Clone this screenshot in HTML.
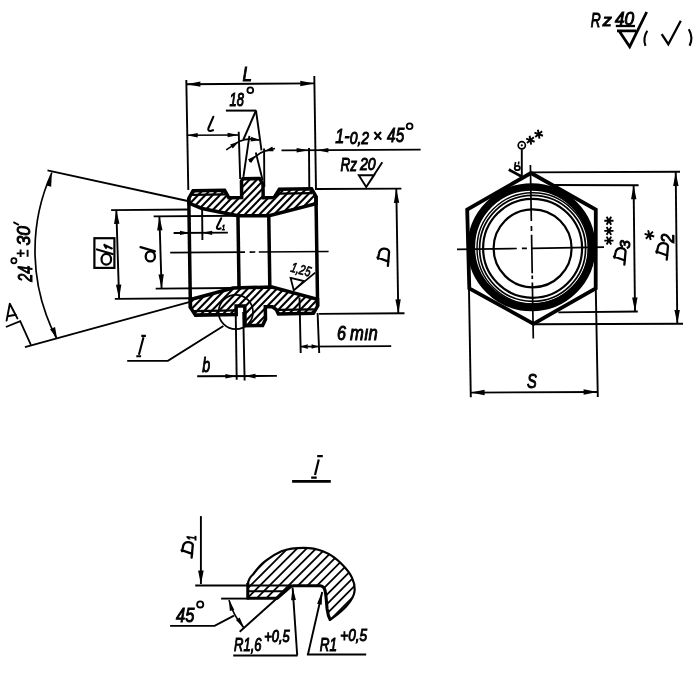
<!DOCTYPE html><html><head><meta charset="utf-8"><title>drawing</title>
<style>html,body{margin:0;padding:0;background:#fff}svg{display:block}text{font-family:"Liberation Sans",sans-serif;font-style:italic;fill:#000}</style></head><body>
<svg width="696" height="674" viewBox="0 0 696 674" fill="none" stroke="#000" stroke-linecap="butt">
<rect x="0" y="0" width="696" height="674" fill="#fff" stroke="none"/>
<defs><filter id="bl" x="0" y="0" width="696" height="674" filterUnits="userSpaceOnUse"><feGaussianBlur stdDeviation="0.45"/></filter></defs>
<g filter="url(#bl)">
<defs>
<clipPath id="ct"><polygon points="194.00,189.75 225.50,189.75 229.60,197.30 242.50,197.30 242.50,181.00 244.00,178.60 260.50,178.60 264.00,184.00 264.00,197.80 275.00,197.80 280.30,189.75 312.50,189.75 316.80,197.50 316.80,204.60 269.60,216.00 238.50,215.60 202.60,207.70 189.60,202.10 189.60,197.50"/></clipPath>
<clipPath id="cb"><polygon points="189.60,298.60 199.30,296.20 232.50,287.70 271.50,287.30 316.80,300.30 316.80,307.00 312.50,314.25 277.50,314.25 275.50,310.00 271.50,307.00 264.50,307.00 264.50,319.50 261.50,325.60 244.00,325.60 244.00,305.80 235.30,305.80 235.30,314.25 194.50,314.25 189.60,306.50"/></clipPath>
</defs>
<g transform="rotate(-0.85 253 252)">
<g clip-path="url(#ct)" stroke-width="2.1">
<line x1="181.20" y1="175.00" x2="136.20" y2="220.00"/>
<line x1="188.60" y1="175.00" x2="143.60" y2="220.00"/>
<line x1="196.00" y1="175.00" x2="151.00" y2="220.00"/>
<line x1="203.40" y1="175.00" x2="158.40" y2="220.00"/>
<line x1="210.80" y1="175.00" x2="165.80" y2="220.00"/>
<line x1="218.20" y1="175.00" x2="173.20" y2="220.00"/>
<line x1="225.60" y1="175.00" x2="180.60" y2="220.00"/>
<line x1="233.00" y1="175.00" x2="188.00" y2="220.00"/>
<line x1="240.40" y1="175.00" x2="195.40" y2="220.00"/>
<line x1="247.80" y1="175.00" x2="202.80" y2="220.00"/>
<line x1="255.20" y1="175.00" x2="210.20" y2="220.00"/>
<line x1="262.60" y1="175.00" x2="217.60" y2="220.00"/>
<line x1="270.00" y1="175.00" x2="225.00" y2="220.00"/>
<line x1="277.40" y1="175.00" x2="232.40" y2="220.00"/>
<line x1="284.80" y1="175.00" x2="239.80" y2="220.00"/>
<line x1="292.20" y1="175.00" x2="247.20" y2="220.00"/>
<line x1="299.60" y1="175.00" x2="254.60" y2="220.00"/>
<line x1="307.00" y1="175.00" x2="262.00" y2="220.00"/>
<line x1="314.40" y1="175.00" x2="269.40" y2="220.00"/>
<line x1="321.80" y1="175.00" x2="276.80" y2="220.00"/>
<line x1="329.20" y1="175.00" x2="284.20" y2="220.00"/>
<line x1="336.60" y1="175.00" x2="291.60" y2="220.00"/>
<line x1="344.00" y1="175.00" x2="299.00" y2="220.00"/>
<line x1="351.40" y1="175.00" x2="306.40" y2="220.00"/>
<line x1="358.80" y1="175.00" x2="313.80" y2="220.00"/>
<line x1="366.20" y1="175.00" x2="321.20" y2="220.00"/>
</g>
<g clip-path="url(#cb)" stroke-width="2.1">
<line x1="184.20" y1="285.00" x2="139.20" y2="330.00"/>
<line x1="191.60" y1="285.00" x2="146.60" y2="330.00"/>
<line x1="199.00" y1="285.00" x2="154.00" y2="330.00"/>
<line x1="206.40" y1="285.00" x2="161.40" y2="330.00"/>
<line x1="213.80" y1="285.00" x2="168.80" y2="330.00"/>
<line x1="221.20" y1="285.00" x2="176.20" y2="330.00"/>
<line x1="228.60" y1="285.00" x2="183.60" y2="330.00"/>
<line x1="236.00" y1="285.00" x2="191.00" y2="330.00"/>
<line x1="243.40" y1="285.00" x2="198.40" y2="330.00"/>
<line x1="250.80" y1="285.00" x2="205.80" y2="330.00"/>
<line x1="258.20" y1="285.00" x2="213.20" y2="330.00"/>
<line x1="265.60" y1="285.00" x2="220.60" y2="330.00"/>
<line x1="273.00" y1="285.00" x2="228.00" y2="330.00"/>
<line x1="280.40" y1="285.00" x2="235.40" y2="330.00"/>
<line x1="287.80" y1="285.00" x2="242.80" y2="330.00"/>
<line x1="295.20" y1="285.00" x2="250.20" y2="330.00"/>
<line x1="302.60" y1="285.00" x2="257.60" y2="330.00"/>
<line x1="310.00" y1="285.00" x2="265.00" y2="330.00"/>
<line x1="317.40" y1="285.00" x2="272.40" y2="330.00"/>
<line x1="324.80" y1="285.00" x2="279.80" y2="330.00"/>
<line x1="332.20" y1="285.00" x2="287.20" y2="330.00"/>
<line x1="339.60" y1="285.00" x2="294.60" y2="330.00"/>
<line x1="347.00" y1="285.00" x2="302.00" y2="330.00"/>
<line x1="354.40" y1="285.00" x2="309.40" y2="330.00"/>
<line x1="361.80" y1="285.00" x2="316.80" y2="330.00"/>
<line x1="369.20" y1="285.00" x2="324.20" y2="330.00"/>
</g>
<line x1="193.00" y1="194.00" x2="226.00" y2="194.00" stroke-width="2.2" />
<line x1="279.00" y1="194.00" x2="313.00" y2="194.00" stroke-width="2.2" />
<line x1="193.00" y1="310.20" x2="235.00" y2="310.20" stroke-width="2.2" />
<line x1="278.00" y1="310.20" x2="313.00" y2="310.20" stroke-width="2.2" />
<polygon points="194.00,189.75 225.50,189.75 229.60,197.30 242.50,197.30 242.50,181.00 244.00,178.60 260.50,178.60 264.00,184.00 264.00,197.80 275.00,197.80 280.30,189.75 312.50,189.75 316.80,197.50 316.80,204.60 269.60,216.00 238.50,215.60 202.60,207.70 189.60,202.10 189.60,197.50" stroke-width="3.5" stroke-linejoin="miter"/>
<polygon points="189.60,298.60 199.30,296.20 232.50,287.70 271.50,287.30 316.80,300.30 316.80,307.00 312.50,314.25 277.50,314.25 275.50,310.00 271.50,307.00 264.50,307.00 264.50,319.50 261.50,325.60 244.00,325.60 244.00,305.80 235.30,305.80 235.30,314.25 194.50,314.25 189.60,306.50" stroke-width="3.5" stroke-linejoin="miter"/>
<line x1="189.60" y1="197.00" x2="189.60" y2="307.00" stroke-width="3.5" />
<line x1="316.80" y1="197.00" x2="316.80" y2="307.00" stroke-width="3.5" />
<line x1="238.50" y1="215.00" x2="238.50" y2="288.00" stroke-width="3.5" />
<line x1="269.30" y1="215.00" x2="269.30" y2="288.00" stroke-width="3.5" />
</g>
<line x1="170.20" y1="252.60" x2="328.60" y2="251.50" stroke-width="1.7" stroke-dasharray="74.8 4.6 5.7 3.5 80"/>
<line x1="186.30" y1="80.00" x2="188.30" y2="190.00" stroke-width="1.9" />
<line x1="314.30" y1="76.00" x2="316.00" y2="190.00" stroke-width="1.9" />
<line x1="186.40" y1="84.20" x2="314.30" y2="83.40" stroke-width="1.9" />
<polygon points="314.30,83.40 300.32,86.19 300.28,80.79" fill="#000" stroke="none"/>
<polygon points="186.40,84.20 200.38,81.41 200.42,86.81" fill="#000" stroke="none"/>
<text transform="translate(242.40 80.80) scale(0.838 1)" font-size="20.22" stroke="#000" stroke-width="1.0">L</text>
<text transform="translate(229.50 105.82) scale(0.704 1)" font-size="18.37" stroke="#000" stroke-width="1.0">18</text>
<circle cx="250.3" cy="90.2" r="2.9" stroke-width="1.8"/>
<line x1="225.90" y1="110.60" x2="256.10" y2="110.60" stroke-width="2.0" />
<line x1="256.00" y1="110.50" x2="243.40" y2="139.50" stroke-width="1.9" />
<line x1="256.00" y1="110.50" x2="261.50" y2="150.40" stroke-width="1.9" />
<line x1="249.40" y1="135.90" x2="243.40" y2="176.90" stroke-width="1.9" />
<line x1="255.80" y1="152.50" x2="262.60" y2="180.00" stroke-width="1.9" />
<line x1="238.70" y1="131.70" x2="240.20" y2="179.00" stroke-width="1.9" />
<line x1="264.10" y1="148.40" x2="264.30" y2="187.00" stroke-width="1.9" />
<path d="M226.2,149.9 L238.7,141.6 Q249,137 259.5,140.2" stroke-width="1.6"/>
<polygon points="238.90,141.50 232.78,148.52 230.10,144.54" fill="#000" stroke="none"/>
<polygon points="259.80,140.40 250.55,141.52 251.22,136.77" fill="#000" stroke="none"/>
<path d="M249.6,161.9 Q258,153.5 264.2,151.2 L275,148.4" stroke-width="1.6"/>
<polygon points="256.20,155.20 251.12,163.01 247.91,159.44" fill="#000" stroke="none"/>
<polygon points="264.30,151.20 272.37,146.55 273.61,151.19" fill="#000" stroke="none"/>
<line x1="186.70" y1="135.30" x2="238.60" y2="134.90" stroke-width="1.5" />
<polygon points="238.60,134.90 227.62,137.18 227.58,132.78" fill="#000" stroke="none"/>
<polygon points="186.70,135.30 197.68,133.02 197.72,137.42" fill="#000" stroke="none"/>
<path d="M213.3,116.8 L208.5,128 Q207.6,131 210.4,131 L213,130.2" stroke-width="2.1" stroke-linecap="round" stroke-linejoin="round"/>
<line x1="281.50" y1="150.40" x2="420.60" y2="149.60" stroke-width="1.9" />
<polygon points="308.60,150.20 296.60,152.50 296.60,147.90" fill="#000" stroke="none"/>
<polygon points="316.40,150.20 328.40,147.90 328.40,152.50" fill="#000" stroke="none"/>
<line x1="309.00" y1="148.00" x2="309.30" y2="188.00" stroke-width="1.9" />
<text transform="translate(335.30 142.60) scale(0.772 1)" font-size="20.95" stroke="#000" stroke-width="1.0">1-</text>
<text transform="translate(349.70 144.03) scale(0.844 1)" font-size="16.54" stroke="#000" stroke-width="1.0">0,2</text>
<path d="M374.3,132 L381.3,139.6 M381,132 L374.5,139.6" stroke-width="2.1"/>
<text transform="translate(387.10 142.39) scale(0.747 1)" font-size="20.65" stroke="#000" stroke-width="1.0">45</text>
<circle cx="409.6" cy="126.3" r="2.9" stroke-width="1.8"/>
<text transform="translate(340.40 171.30) scale(0.761 1)" font-size="17.75" stroke="#000" stroke-width="1.0">Rz</text>
<text transform="translate(359.91 170.43) scale(0.818 1)" font-size="17.24" stroke="#000" stroke-width="1.0">20</text>
<path d="M358.8,175.2 L374.1,175.2 L366.2,187.1 Z M366.2,187.1 L382.3,162.3" stroke-width="1.9"/>
<line x1="317.00" y1="189.00" x2="401.40" y2="188.60" stroke-width="1.9" />
<line x1="319.00" y1="313.90" x2="404.50" y2="313.30" stroke-width="1.9" />
<line x1="396.30" y1="188.90" x2="398.30" y2="313.40" stroke-width="1.9" />
<polygon points="398.30,313.40 395.38,299.45 400.77,299.36" fill="#000" stroke="none"/>
<polygon points="396.30,188.90 399.22,202.85 393.83,202.94" fill="#000" stroke="none"/>
<path d="M387.87,265.90 L389.09,251.80 C388.85,249.73 386.04,248.36 383.60,248.70 C381.16,249.04 379.33,251.28 378.96,253.69 L377.99,258.68 M377.50,257.47 L388.48,261.60" stroke-width="2.3" stroke-linecap="round" stroke-linejoin="round"/>
<path d="M290.6,277.9 L303.9,281.1 L293.8,290.4 Z M293.8,290.4 L315.2,272.6" stroke-width="1.8"/>
<text transform="translate(290.00 271.60) rotate(15) scale(0.74 1)" font-size="14" stroke="#000" stroke-width="0.7" >1,25</text>
<line x1="299.50" y1="297.50" x2="300.70" y2="353.00" stroke-width="1.9" />
<line x1="317.60" y1="313.00" x2="319.20" y2="353.00" stroke-width="1.9" />
<line x1="300.30" y1="346.60" x2="391.20" y2="346.10" stroke-width="1.9" />
<polygon points="300.70,346.60 307.70,344.30 307.70,348.90" fill="#000" stroke="none"/>
<polygon points="318.60,346.50 311.60,348.80 311.60,344.20" fill="#000" stroke="none"/>
<text transform="translate(337.10 340.10) scale(0.804 1)" font-size="20.07" stroke="#000" stroke-width="1.0">6</text>
<text transform="translate(350.10 340.30) scale(0.831 1)" font-size="19.91" stroke="#000" stroke-width="1.0">mın</text>
<line x1="235.70" y1="312.00" x2="236.70" y2="379.70" stroke-width="1.9" />
<line x1="243.20" y1="312.00" x2="244.60" y2="380.40" stroke-width="1.9" />
<line x1="197.20" y1="376.30" x2="276.90" y2="375.90" stroke-width="1.9" />
<polygon points="236.40,376.20 225.40,378.50 225.40,373.90" fill="#000" stroke="none"/>
<polygon points="244.50,376.10 255.50,373.80 255.50,378.40" fill="#000" stroke="none"/>
<text transform="translate(202.20 371.60) scale(0.727 1)" font-size="19.59" stroke="#000" stroke-width="1.0">b</text>
<path d="M138.9,354.8 L143.5,337.3 M141.3,335.9 h4.6 M136.3,356.3 h4.8" stroke-width="2.1"/>
<path d="M127.2,360.9 L167.9,360.9 L223.4,326" stroke-width="1.9"/>
<circle cx="235.8" cy="312" r="17.2" stroke-width="1.7"/>
<line x1="111.10" y1="210.10" x2="190.00" y2="209.50" stroke-width="1.9" />
<line x1="114.80" y1="298.90" x2="190.00" y2="298.30" stroke-width="1.9" />
<line x1="116.30" y1="209.90" x2="119.10" y2="298.70" stroke-width="1.9" />
<polygon points="119.10,298.70 115.96,284.79 121.36,284.62" fill="#000" stroke="none"/>
<polygon points="116.30,209.90 119.44,223.81 114.04,223.98" fill="#000" stroke="none"/>
<rect x="94.4" y="238.2" width="20" height="29.7" stroke-width="2.2"/>
<path d="M97,249.5 L112.5,254 M104.4,245 L111.8,248.4 M104.4,245 L106,247.8" stroke-width="2.2" stroke-linecap="round"/><ellipse cx="106.3" cy="259.2" rx="4.8" ry="5.4" stroke-width="2.2"/>
<line x1="153.60" y1="216.40" x2="238.00" y2="215.80" stroke-width="1.9" />
<line x1="155.70" y1="288.60" x2="232.00" y2="288.00" stroke-width="1.9" />
<line x1="159.40" y1="216.40" x2="161.60" y2="288.40" stroke-width="1.9" />
<polygon points="161.60,288.40 158.47,274.49 163.87,274.32" fill="#000" stroke="none"/>
<polygon points="159.40,216.40 162.53,230.31 157.13,230.48" fill="#000" stroke="none"/>
<path d="M140.6,247.2 L154.9,251.3" stroke-width="2.3" stroke-linecap="round"/><ellipse cx="150.3" cy="256.4" rx="4.6" ry="5" stroke-width="2.3"/>
<line x1="202.10" y1="207.00" x2="202.40" y2="239.90" stroke-width="1.9" />
<line x1="173.60" y1="233.00" x2="227.90" y2="232.60" stroke-width="1.9" />
<polygon points="190.00,232.90 180.00,235.00 180.00,230.80" fill="#000" stroke="none"/>
<polygon points="202.20,232.80 212.20,230.70 212.20,234.90" fill="#000" stroke="none"/>
<path d="M221.2,218.3 L217.1,226.6 Q216.3,229 218.6,229 L220.6,228.4" stroke-width="2.1" stroke-linecap="round" stroke-linejoin="round"/>
<text transform="translate(221.90 230.20) scale(0.688 1)" font-size="7.85" stroke="#000" stroke-width="1.0">1</text>
<line x1="47.50" y1="170.40" x2="190.00" y2="201.50" stroke-width="1.8" />
<line x1="24.90" y1="347.20" x2="190.00" y2="301.80" stroke-width="1.8" />
<path d="M51.9,172.5 A189,189 0 0 0 56.4,338" stroke-width="1.7"/>
<polygon points="51.90,172.50 51.19,186.70 46.31,185.58" fill="#000" stroke="none"/>
<polygon points="57.00,338.20 49.97,329.29 55.08,327.01" fill="#000" stroke="none"/>
<text transform="translate(31.70 281.69) rotate(-90) scale(0.721 1)" font-size="19.93" stroke="#000" stroke-width="1.0">24</text>
<text transform="translate(30.42 245.60) rotate(-90) scale(0.969 1)" font-size="18.09" stroke="#000" stroke-width="1.0">30</text>
<circle cx="13.9" cy="260.7" r="2.6" stroke-width="1.7"/>
<path d="M16.7,253.4 H24.6 M20.6,249.6 V257 M27.6,249.8 V256.8" stroke-width="1.9"/>
<line x1="13.40" y1="222.20" x2="18.90" y2="225.00" stroke-width="1.9" />
<path d="M6.6,320.6 L9.8,303.8 L17.4,318.4 M7.6,316.3 L15.9,314.8" stroke-width="1.9" stroke-linejoin="round" stroke-linecap="round"/>
<path d="M5.9,327 L20.2,321.1 L30.9,344.8" stroke-width="1.8"/>
<polygon points="531.00,173.00 595.80,209.50 595.70,288.30 533.50,323.80 469.30,288.30 467.20,209.50" stroke-width="3.8" stroke-linejoin="miter"/>
<circle cx="531.5" cy="247.2" r="60.2" stroke-width="7.6"/>
<circle cx="532.6" cy="248.3" r="55.6" stroke-width="1.4"/>
<circle cx="532.6" cy="248.3" r="53" stroke-width="1.7"/>
<circle cx="532.6" cy="248.3" r="49.5" stroke-width="2.2"/>
<circle cx="532.6" cy="248.3" r="39" stroke-width="2.2"/>
<line x1="457.00" y1="249.40" x2="604.00" y2="247.20" stroke-width="1.7" stroke-dasharray="59.8 5.1 5 5.1 80"/>
<line x1="530.40" y1="165.00" x2="533.30" y2="338.60" stroke-width="1.7" stroke-dasharray="55.9 5.1 5 3.8 38.5 2.3 3.4 3.5 60"/>
<circle cx="521.8" cy="145.3" r="3.6" stroke-width="1.7"/><circle cx="521.8" cy="145.3" r="1.1" fill="#000" stroke="none"/>
<line x1="521.80" y1="149.30" x2="521.80" y2="176.00" stroke-width="1.9" />
<path d="M529.62,135.77 L531.18,144.63 M533.85,137.31 L526.95,143.09 M534.63,141.74 L526.17,138.66 " stroke-width="1.9"/>
<path d="M537.92,129.77 L539.48,138.63 M542.15,131.31 L535.25,137.09 M542.93,135.74 L534.47,132.66 " stroke-width="1.9"/>
<path d="M508.8,169.6 L521.5,176.4" stroke-width="2.8"/>
<ellipse cx="517.3" cy="168" rx="2.6" ry="2.2" stroke-width="1.8"/>
<line x1="514.80" y1="166.00" x2="515.60" y2="162.00" stroke-width="1.6" />
<line x1="518.50" y1="164.50" x2="518.80" y2="161.50" stroke-width="1.6" />
<line x1="531.00" y1="172.40" x2="680.00" y2="171.80" stroke-width="1.9" />
<line x1="533.00" y1="324.20" x2="683.00" y2="323.80" stroke-width="1.9" />
<line x1="675.70" y1="172.00" x2="677.30" y2="324.00" stroke-width="1.9" />
<polygon points="677.30,324.00 674.45,310.03 679.85,309.97" fill="#000" stroke="none"/>
<polygon points="675.70,172.00 678.55,185.97 673.15,186.03" fill="#000" stroke="none"/>
<line x1="551.70" y1="185.00" x2="638.60" y2="185.20" stroke-width="1.9" />
<line x1="558.40" y1="312.40" x2="637.80" y2="311.50" stroke-width="1.9" />
<line x1="633.60" y1="185.20" x2="635.00" y2="311.50" stroke-width="1.9" />
<polygon points="635.00,311.50 632.14,297.53 637.54,297.47" fill="#000" stroke="none"/>
<polygon points="633.60,185.20 636.46,199.17 631.06,199.23" fill="#000" stroke="none"/>
<path d="M624.37,264.60 L625.59,251.07 C625.35,249.09 622.54,247.77 620.10,248.10 C617.66,248.43 615.83,250.57 615.46,252.88 L614.49,257.67 M614.00,256.51 L624.98,260.48" stroke-width="2.3" stroke-linecap="round" stroke-linejoin="round"/>
<text transform="translate(630.35 248.80) rotate(-90) scale(1.015 1)" font-size="15.27" stroke="#000" stroke-width="1.0">3</text>
<path d="M666.75,259.60 L667.99,246.07 C667.74,244.09 664.91,242.77 662.45,243.10 C659.99,243.43 658.14,245.57 657.78,247.88 L656.79,252.67 M656.30,251.52 L667.37,255.48" stroke-width="2.3" stroke-linecap="round" stroke-linejoin="round"/>
<text transform="translate(673.60 242.97) rotate(-90) scale(0.955 1)" font-size="17.49" stroke="#000" stroke-width="1.0">2</text>
<path d="M604.30,220.80 L613.50,220.80 M606.60,216.82 L611.20,224.78 M611.20,216.82 L606.60,224.78 " stroke-width="1.9"/>
<path d="M604.30,230.90 L613.50,230.90 M606.60,226.92 L611.20,234.88 M611.20,226.92 L606.60,234.88 " stroke-width="1.9"/>
<path d="M604.30,240.60 L613.50,240.60 M606.60,236.62 L611.20,244.58 M611.20,236.62 L606.60,244.58 " stroke-width="1.9"/>
<path d="M644.57,233.91 L654.23,236.49 M648.11,230.37 L650.69,240.03 M652.94,231.66 L645.86,238.74 " stroke-width="1.9"/>
<line x1="469.00" y1="290.00" x2="470.80" y2="397.20" stroke-width="1.9" />
<line x1="595.80" y1="290.00" x2="597.80" y2="397.00" stroke-width="1.9" />
<line x1="470.60" y1="392.60" x2="597.60" y2="392.00" stroke-width="1.9" />
<polygon points="597.60,392.00 583.61,394.77 583.59,389.37" fill="#000" stroke="none"/>
<polygon points="470.60,392.60 484.59,389.83 484.61,395.23" fill="#000" stroke="none"/>
<text transform="translate(526.90 387.69) scale(0.711 1)" font-size="20.64" stroke="#000" stroke-width="1.0">S</text>
<path d="M318.8,459.6 L315,475 M317.2,456.1 h5.6 M311.2,477.7 h5.5" stroke-width="2.2"/>
<line x1="292.10" y1="481.40" x2="330.80" y2="481.40" stroke-width="2.8" />
<defs><clipPath id="cd"><path d="M247.8,584 C248.5,579 250,577 253,574.5 C257,569 261,564 265.9,560.7 C270.5,557 276,553.5 281.4,551.2 C288,548.8 296,547.8 303.8,547.8 C310,547.8 317,549 322.8,551.2 C330,554 336.5,558.5 341.7,564.1 C346,568.5 349.8,573 352.1,577.9 C354,582 354.9,586 354.7,590 C354.3,596 351,601 346.9,605.5 C343,610 338,614 333.1,617.6 L329.7,620.2 C328.5,617 327.6,613 327.1,609 C326.5,603 326.3,597 325.3,591.7 C324.6,588 323.5,586 320.5,585.7 L293.5,585.7 Q291.5,585.9 290,587.2 L277.1,598.2 L247.8,598.2 Z"/></clipPath></defs>
<g clip-path="url(#cd)" stroke-width="1.8">
<line x1="239.10" y1="540.00" x2="154.10" y2="625.00"/>
<line x1="248.60" y1="540.00" x2="163.60" y2="625.00"/>
<line x1="258.10" y1="540.00" x2="173.10" y2="625.00"/>
<line x1="267.60" y1="540.00" x2="182.60" y2="625.00"/>
<line x1="277.10" y1="540.00" x2="192.10" y2="625.00"/>
<line x1="286.60" y1="540.00" x2="201.60" y2="625.00"/>
<line x1="296.10" y1="540.00" x2="211.10" y2="625.00"/>
<line x1="305.60" y1="540.00" x2="220.60" y2="625.00"/>
<line x1="315.10" y1="540.00" x2="230.10" y2="625.00"/>
<line x1="324.60" y1="540.00" x2="239.60" y2="625.00"/>
<line x1="334.10" y1="540.00" x2="249.10" y2="625.00"/>
<line x1="343.60" y1="540.00" x2="258.60" y2="625.00"/>
<line x1="353.10" y1="540.00" x2="268.10" y2="625.00"/>
<line x1="362.60" y1="540.00" x2="277.60" y2="625.00"/>
<line x1="372.10" y1="540.00" x2="287.10" y2="625.00"/>
<line x1="381.60" y1="540.00" x2="296.60" y2="625.00"/>
<line x1="391.10" y1="540.00" x2="306.10" y2="625.00"/>
<line x1="400.60" y1="540.00" x2="315.60" y2="625.00"/>
<line x1="410.10" y1="540.00" x2="325.10" y2="625.00"/>
<line x1="419.60" y1="540.00" x2="334.60" y2="625.00"/>
<line x1="429.10" y1="540.00" x2="344.10" y2="625.00"/>
<line x1="438.60" y1="540.00" x2="353.60" y2="625.00"/>
<line x1="448.10" y1="540.00" x2="363.10" y2="625.00"/>
</g>
<line x1="248.00" y1="591.20" x2="284.00" y2="591.20" stroke-width="2.1" />
<path d="M247.8,584 C248.5,579 250,577 253,574.5 C257,569 261,564 265.9,560.7 C270.5,557 276,553.5 281.4,551.2 C288,548.8 296,547.8 303.8,547.8 C310,547.8 317,549 322.8,551.2 C330,554 336.5,558.5 341.7,564.1 C346,568.5 349.8,573 352.1,577.9 C354,582 354.9,586 354.7,590 C354.3,596 351,601 346.9,605.5 C343,610 338,614 333.1,617.6 L329.7,620.2" stroke-width="2.2" stroke-linejoin="round"/>
<path d="M330.5,620.6 C328.5,617 327.6,613 327.1,609 C326.5,603 326.3,597 325.3,591.7 C324.6,588 323.5,586 320.5,585.7 L293.5,585.7 Q291.5,585.9 290,587.2 L277.1,598.2 L247.8,598.2 L247.8,583" stroke-width="3.1" stroke-linejoin="round"/>
<line x1="200.90" y1="516.10" x2="200.90" y2="584.00" stroke-width="1.9" />
<polygon points="200.90,584.60 198.10,570.60 203.70,570.60" fill="#000" stroke="none"/>
<line x1="195.20" y1="585.50" x2="292.00" y2="585.50" stroke-width="1.9" />
<path d="M191.63,557.70 L192.81,544.91 C192.57,543.04 189.86,541.79 187.50,542.10 C185.14,542.41 183.37,544.44 183.02,546.62 L182.07,551.15 M181.60,550.06 L192.22,553.80" stroke-width="2.3" stroke-linecap="round" stroke-linejoin="round"/>
<text transform="translate(196.00 540.60) rotate(-90) scale(0.740 1)" font-size="12.65" stroke="#000" stroke-width="1.0">1</text>
<line x1="221.10" y1="598.60" x2="249.00" y2="598.60" stroke-width="1.9" />
<line x1="277.00" y1="598.30" x2="239.70" y2="631.70" stroke-width="1.9" />
<path d="M229,600.1 Q233,615 243.5,627.4" stroke-width="1.7"/>
<polygon points="229.00,599.80 234.24,609.74 229.82,611.01" fill="#000" stroke="none"/>
<polygon points="244.10,627.80 235.91,620.11 239.67,617.47" fill="#000" stroke="none"/>
<path d="M234,615.6 L214.6,625.9 L170.1,625.9" stroke-width="1.9"/>
<text transform="translate(176.10 622.09) scale(0.805 1)" font-size="20.50" stroke="#000" stroke-width="1.0">45</text>
<circle cx="200.2" cy="604.4" r="3.1" stroke-width="1.8"/>
<line x1="233.20" y1="655.50" x2="297.60" y2="655.50" stroke-width="2.0" />
<line x1="297.20" y1="655.30" x2="292.60" y2="587.60" stroke-width="1.9" />
<polygon points="292.60,587.20 295.90,600.00 291.11,600.34" fill="#000" stroke="none"/>
<text transform="translate(234.10 650.50) scale(0.716 1)" font-size="18.18" stroke="#000" stroke-width="1.0">R1,6</text>
<text transform="translate(264.20 641.84) scale(0.815 1)" font-size="15.83" stroke="#000" stroke-width="1.0">+0,5</text>
<line x1="306.90" y1="654.50" x2="366.20" y2="654.50" stroke-width="2.0" />
<line x1="308.00" y1="654.20" x2="322.20" y2="592.00" stroke-width="1.9" />
<polygon points="322.30,591.60 321.71,604.81 317.04,603.73" fill="#000" stroke="none"/>
<text transform="translate(319.80 650.50) scale(0.745 1)" font-size="18.18" stroke="#000" stroke-width="1.0">R1</text>
<text transform="translate(340.30 640.84) scale(0.837 1)" font-size="16.25" stroke="#000" stroke-width="1.0">+0,5</text>
<text transform="translate(590.80 26.70) scale(0.670 1)" font-size="20.65" stroke="#000" stroke-width="1.0">R</text>
<text transform="translate(602.64 25.80) scale(1.051 1)" font-size="17.25" stroke="#000" stroke-width="1.0">z</text>
<text transform="translate(615.00 24.82) scale(0.977 1)" font-size="17.67" stroke="#000" stroke-width="1.0">40</text>
<line x1="615.80" y1="26.00" x2="635.00" y2="26.00" stroke-width="2.3" />
<path d="M617,30.8 L636,30.8 M619,30.8 L629.7,46.7 L646.7,12" stroke-width="2.8" stroke-linejoin="miter"/>
<path d="M647.3,30.8 Q642.5,38.5 645.5,45.8" stroke-width="2.1"/>
<path d="M688.8,29.2 Q693.5,37.5 689.6,45.8" stroke-width="2.1"/>
<path d="M661.7,34.2 L668.3,44.2 L680.8,20.8" stroke-width="2.3"/>
</g></svg></body></html>
